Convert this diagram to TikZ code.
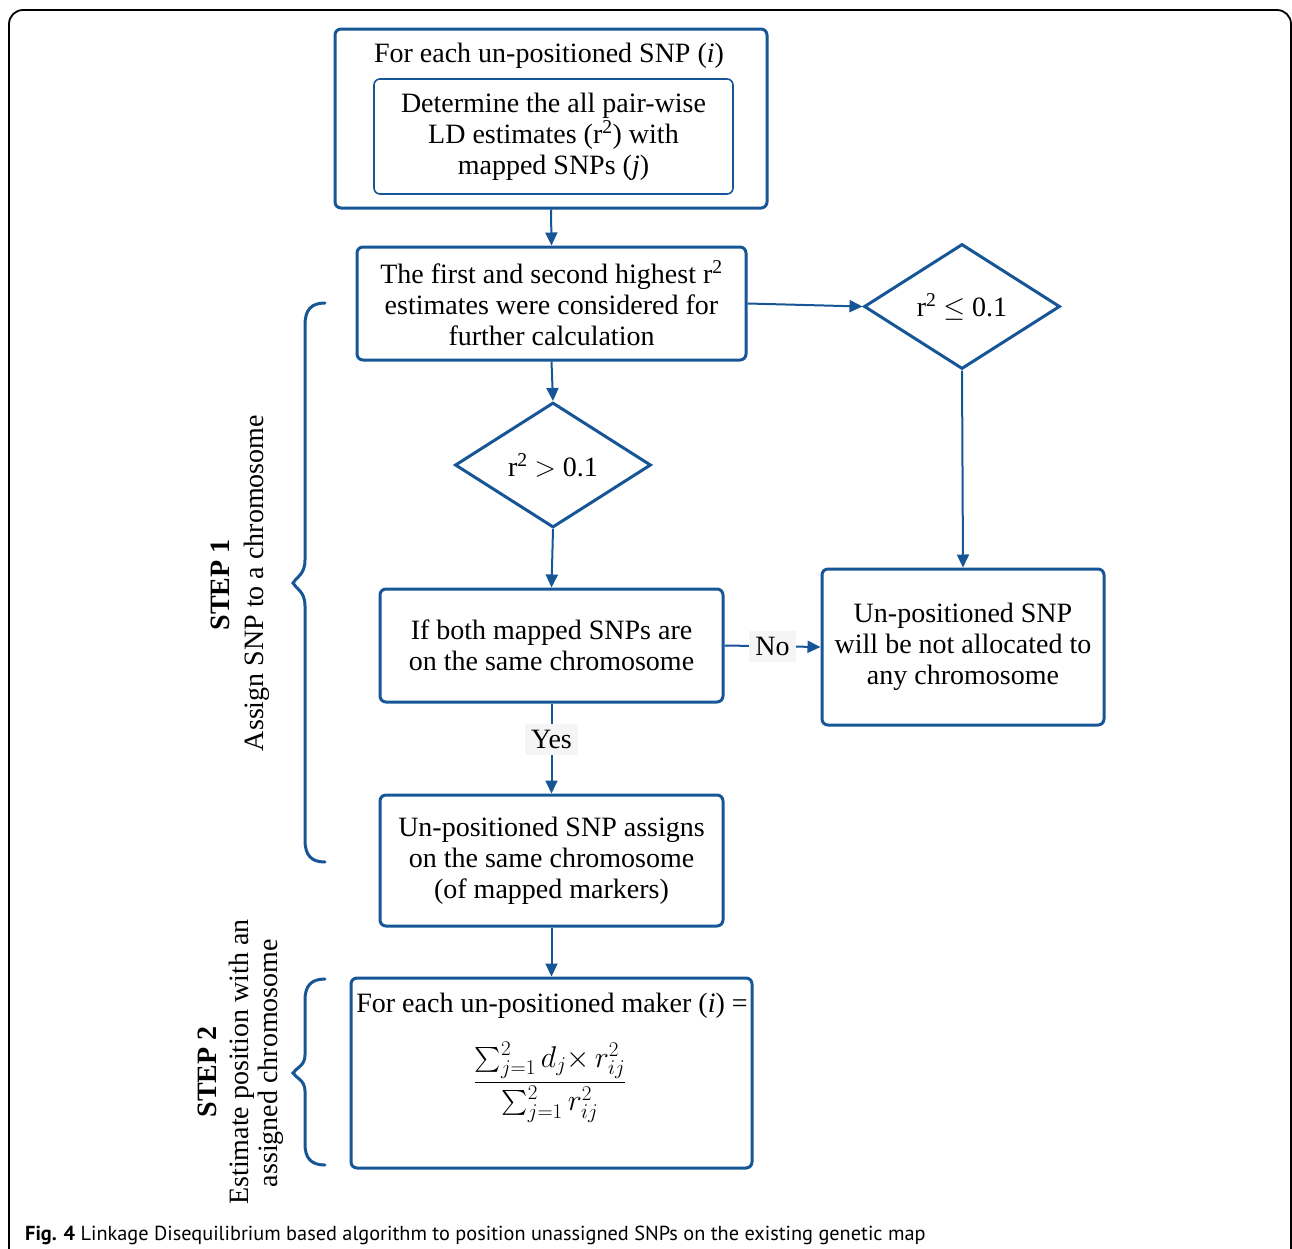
\RequirePackage{fix-cm}
\documentclass[tikz,border=0pt]{standalone}
\usepackage{amsmath}
\usepackage{exscale}
\usepackage{fontspec}
\setmainfont{Liberation Serif}
\newfontfamily\capfont{PT Sans}
\usetikzlibrary{shapes.geometric,arrows.meta}
\definecolor{fblue}{RGB}{22,86,150}
\begin{document}
\begin{tikzpicture}[x=1pt,y=-1pt,
  every node/.style={font=\fontsize{28}{31}\selectfont},
  box/.style={draw=fblue,line width=3pt,rounded corners=6pt,align=center,inner sep=0pt},
  inbox/.style={draw=fblue,line width=1.6pt,rounded corners=6pt,align=center,inner sep=0pt},
  dia/.style={draw=fblue,line width=3pt,diamond,aspect=1.57,inner sep=0pt},
  conn/.style={draw=fblue,line width=2pt,-{Triangle[length=13pt,width=12pt]}},
  lbl/.style={fill=black!4,inner sep=6pt},
  brace/.style={draw=fblue,line width=3pt,line cap=round}]
\useasboundingbox (0,0) rectangle (1292,1248);
\begin{scope}
\clip (0,0) rectangle (1292,1248);
\draw[line width=1.8pt,rounded corners=14pt] (9,1270) -- (9,10) -- (1291,10) -- (1291,1270);
\end{scope}
% nodes
\node[box,minimum width=432pt,minimum height=179pt] (A) at (551,118.5) {};
\node[anchor=base] (At) at (549,62) {For each un-positioned SNP (\textit{i})};
\node[inbox,minimum width=359pt,minimum height=115pt] (B) at (553.5,136.5)
  {Determine the all pair-wise\\LD estimates (r\textsuperscript{2}) with\\mapped SNPs (\textit{j})};
\node[box,minimum width=389pt,minimum height=113pt] (C) at (551.5,303.5)
  {The first and second highest r\textsuperscript{2}\\estimates were considered for\\further calculation};
\node[dia,minimum width=196pt,minimum height=125pt] (D1) at (962,306.5) {r\textsuperscript{2} $\leq$ 0.1};
\node[dia,minimum width=196pt,minimum height=125pt] (D2) at (553,465) {r\textsuperscript{2} $>$ 0.1};
\node[box,minimum width=343pt,minimum height=113pt] (E) at (551.5,645.5)
  {If both mapped SNPs are\\on the same chromosome};
\node[box,minimum width=282pt,minimum height=156pt] (F) at (963,647)
  {Un-positioned SNP\\will be not allocated to\\any chromosome};
\node[box,minimum width=343pt,minimum height=131pt] (G) at (551.5,860.5)
  {Un-positioned SNP assigns\\on the same chromosome\\(of mapped markers)};
\node[box,minimum width=401pt,minimum height=190pt] (H) at (551.5,1073) {};
\node[anchor=base] (Ht) at (552,1012) {For each un-positioned maker (\textit{i}) =};
\node[font=\fontsize{30}{36}\selectfont] (Hf) at (550,1082) {$\displaystyle\frac{\sum\nolimits_{j=1}^{2} d_j{\times}\, r_{ij}^{2}}{\sum\nolimits_{j=1}^{2} r_{ij}^{2}}$};
% connectors
\draw[conn] (A.south) -- (C.north);
\draw[conn] (C.east) -- (D1.west);
\draw[conn] (C.south) -- (D2.north);
\draw[conn] (D2.south) -- (E.north);
\draw[conn] (D1.south) -- (F.north);
\draw[conn] (E.east) -- node[lbl] (No) {No} (F.west);
\draw[conn] (E.south) -- node[lbl,pos=0.4] (Yes) {Yes} (G.north);
\draw[conn] (G.south) -- (H.north);
% braces
\draw[brace] (325,303) .. controls (311,303) and (305,310) .. (305,325) -- (305,560)
  .. controls (305,575) and (296,577) .. (293,583) .. controls (296,589) and (305,591) .. (305,606)
  -- (305,840) .. controls (305,855) and (311,862) .. (325,862);
\draw[brace] (325,979) .. controls (311,979) and (305,986) .. (305,1000) -- (305,1055)
  .. controls (305,1066) and (296,1068) .. (293,1073) .. controls (296,1078) and (305,1080) .. (305,1091)
  -- (305,1144) .. controls (305,1158) and (311,1165) .. (325,1165);
% step labels
\node[rotate=90,font=\fontsize{28}{31}\selectfont\bfseries] (S1) at (220,585) {STEP 1};
\node[rotate=90] (S1b) at (257,583) {Assign SNP to a chromosome};
\node[rotate=90,font=\fontsize{28}{31}\selectfont\bfseries] (S2) at (207,1072) {STEP 2};
\node[rotate=90] (S2b) at (242,1062) {Estimate position with an};
\node[rotate=90] (S2c) at (271,1063) {assigned chromosome};
% caption
\node[anchor=base west,inner sep=0pt,font=\capfont\fontsize{20.3}{25}\selectfont] (cap) at (25,1240)
  {\textbf{Fig. 4} Linkage Disequilibrium based algorithm to position unassigned SNPs on the existing genetic map};
\end{tikzpicture}
\end{document}
